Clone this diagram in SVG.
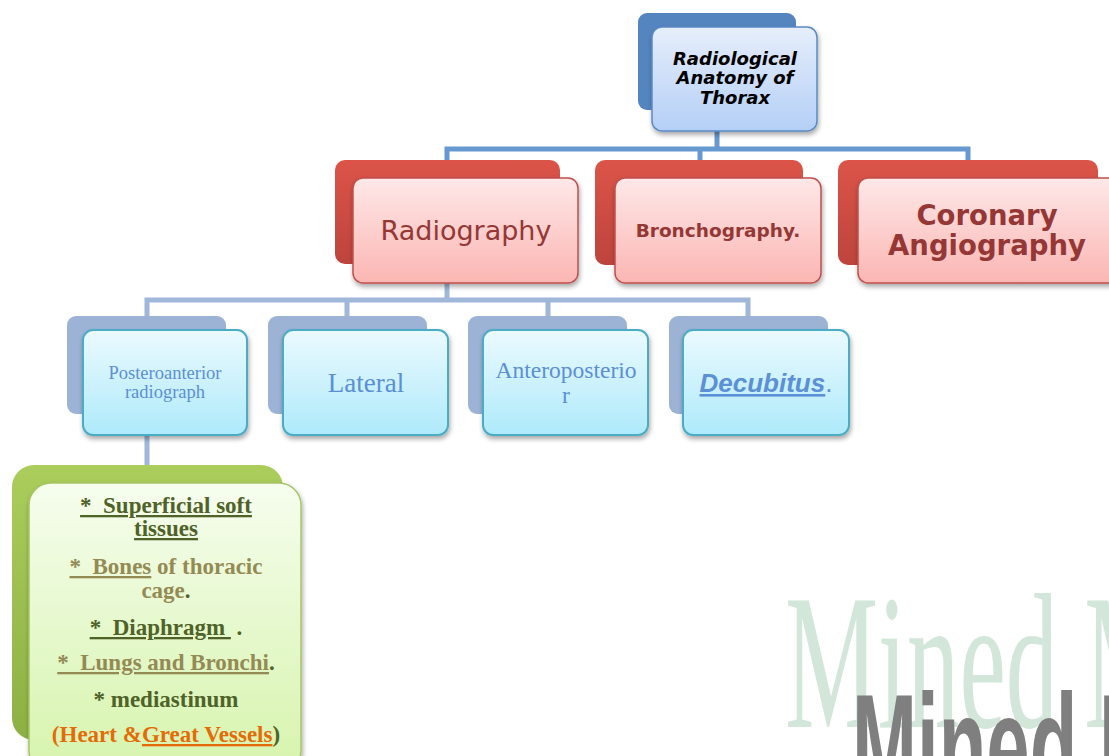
<svg xmlns="http://www.w3.org/2000/svg" width="1109" height="756" viewBox="0 0 1109 756">
<defs>
<linearGradient id="gTop" x1="0" y1="0" x2="0" y2="1"><stop offset="0" stop-color="#e6eefb"/><stop offset="1" stop-color="#b4cff6"/></linearGradient>
<linearGradient id="gRedBack" x1="0" y1="0" x2="0" y2="1"><stop offset="0" stop-color="#dc5448"/><stop offset="1" stop-color="#bd443d"/></linearGradient>
<linearGradient id="gRed" x1="0" y1="0" x2="0" y2="1"><stop offset="0" stop-color="#fee8e8"/><stop offset="1" stop-color="#fbb6b3"/></linearGradient>
<linearGradient id="gCyan" x1="0" y1="0" x2="0" y2="1"><stop offset="0" stop-color="#ebfafe"/><stop offset="1" stop-color="#aeeafb"/></linearGradient>
<linearGradient id="gGreenBack" x1="0" y1="0" x2="0" y2="1"><stop offset="0" stop-color="#abcd5c"/><stop offset="1" stop-color="#8db045"/></linearGradient>
<linearGradient id="gGreen" x1="0" y1="0" x2="0" y2="1"><stop offset="0" stop-color="#f6fdee"/><stop offset="1" stop-color="#d6f4ac"/></linearGradient>
<filter id="sh" x="-10%" y="-10%" width="125%" height="130%"><feGaussianBlur in="SourceAlpha" stdDeviation="2.5"/><feOffset dx="1" dy="3"/><feComponentTransfer><feFuncA type="linear" slope="0.35"/></feComponentTransfer><feMerge><feMergeNode/><feMergeNode in="SourceGraphic"/></feMerge></filter>
</defs>
<style>
.l1{fill:none;stroke:#6699cf;stroke-width:5}
.l2{fill:none;stroke:#9fb7d9;stroke-width:5}
.topBack{fill:#5585bf}
.topFront{fill:url(#gTop);stroke:#5a8ac6;stroke-width:1.5}
.redBack{fill:url(#gRedBack)}
.redFront{fill:url(#gRed);stroke:#c0504d;stroke-width:1.5}
.blBack{fill:#9db3d6}
.blFront{fill:url(#gCyan);stroke:#4bacc6;stroke-width:2}
.grBack{fill:url(#gGreenBack)}
.grFront{fill:url(#gGreen);stroke:#a6c564;stroke-width:1.5}
.ver{font-family:"DejaVu Sans",Verdana,sans-serif}
.tm{font-family:"Liberation Serif","Times New Roman",serif}
.red{fill:#953735}
.blue{fill:#5b8fd6}
.g{font-family:"Liberation Serif","Times New Roman",serif;font-weight:bold;font-size:23px;text-anchor:middle}
.dk{fill:#4f6228}
.tan{fill:#948a54}
.or{fill:#e36c09}
</style>

<g id="watermark">
<text transform="translate(785,727) scale(0.545,1)" font-family="Liberation Serif, serif" font-size="192" fill="#d3e6da">Mined M</text>
<text transform="translate(852,799) scale(0.52,1)" font-family="Liberation Sans, sans-serif" font-weight="bold" font-size="150" fill="#7f7f7f">Mined M</text>
</g>

<g id="connectors">
<path class="l1" d="M717,131 V149 M447,160 V149 H968 V160 M700,149 V160"/>
<path class="l2" d="M447,283 V300 M147,316 V300 H748 V316 M347,300 V316 M548,300 V316"/>
<path class="l2" d="M147,435 V466"/>
</g>

<g id="n-root">
<rect class="topBack" x="638" y="13" width="158" height="97" rx="9"/>
<rect class="topFront" x="652" y="27" width="165" height="104" rx="10" filter="url(#sh)"/>
<text class="ver" x="735" y="65" font-size="18" font-weight="bold" font-style="italic" text-anchor="middle" fill="#000">Radiological</text>
<text class="ver" x="735" y="84" font-size="18" font-weight="bold" font-style="italic" text-anchor="middle" fill="#000">Anatomy of</text>
<text class="ver" x="735" y="104" font-size="18" font-weight="bold" font-style="italic" text-anchor="middle" fill="#000">Thorax</text>
</g>

<g id="n-radiography">
<rect class="redBack" x="335" y="160" width="225" height="104" rx="10"/>
<rect class="redFront" x="353" y="178" width="225" height="105" rx="10" filter="url(#sh)"/>
<text class="ver red" x="466" y="240" font-size="27" text-anchor="middle">Radiography</text>
</g>

<g id="n-bronchography">
<rect class="redBack" x="595" y="160" width="208" height="105" rx="10"/>
<rect class="redFront" x="615" y="178" width="206" height="105" rx="10" filter="url(#sh)"/>
<text class="ver red" x="718" y="237" font-size="18.5" font-weight="bold" text-anchor="middle">Bronchography.</text>
</g>

<g id="n-coronary">
<rect class="redBack" x="838" y="160" width="260" height="105" rx="10"/>
<rect class="redFront" x="858" y="178" width="262" height="105" rx="10" filter="url(#sh)"/>
<text class="ver red" x="987" y="225" font-size="27.5" font-weight="bold" text-anchor="middle">Coronary</text>
<text class="ver red" x="987" y="255" font-size="27.5" font-weight="bold" text-anchor="middle">Angiography</text>
</g>

<g id="n-pa">
<rect class="blBack" x="67" y="316" width="159" height="98" rx="9"/>
<rect class="blFront" x="83" y="330" width="164" height="105" rx="10" filter="url(#sh)"/>
<text class="tm blue" x="165" y="379" font-size="18.5" text-anchor="middle">Posteroanterior</text>
<text class="tm blue" x="165" y="398" font-size="18.5" text-anchor="middle">radiograph</text>
</g>

<g id="n-lateral">
<rect class="blBack" x="268" y="316" width="159" height="98" rx="9"/>
<rect class="blFront" x="283" y="330" width="165" height="105" rx="10" filter="url(#sh)"/>
<text class="tm blue" x="366" y="392" font-size="27" text-anchor="middle">Lateral</text>
</g>

<g id="n-ap">
<rect class="blBack" x="468" y="316" width="159" height="98" rx="9"/>
<rect class="blFront" x="483" y="330" width="165" height="105" rx="10" filter="url(#sh)"/>
<text class="tm blue" x="566" y="378" font-size="23.5" text-anchor="middle">Anteroposterio</text>
<text class="tm blue" x="566" y="403" font-size="23.5" text-anchor="middle">r</text>
</g>

<g id="n-decubitus">
<rect class="blBack" x="669" y="316" width="159" height="98" rx="9"/>
<rect class="blFront" x="683" y="330" width="166" height="105" rx="10" filter="url(#sh)"/>
<text x="766" y="392" font-family="Liberation Sans, Arial, sans-serif" font-size="26" text-anchor="middle" class="blue"><tspan font-weight="bold" font-style="italic" text-decoration="underline">Decubitus</tspan><tspan>.</tspan></text>
</g>

<g id="n-details">
<rect class="grBack" x="12" y="465" width="271" height="275" rx="22"/>
<rect class="grFront" x="29" y="483" width="272" height="290" rx="22" filter="url(#sh)"/>
<text class="g dk" x="166" y="513" text-decoration="underline" xml:space="preserve"><tspan>*  Superficial soft</tspan></text>
<text class="g dk" x="166" y="536" text-decoration="underline">tissues</text>
<text class="g tan" x="166" y="574" xml:space="preserve"><tspan text-decoration="underline">*  Bones</tspan> of thoracic</text>
<text class="g tan" x="166" y="598">cage<tspan class="dk">.</tspan></text>
<text class="g dk" x="166" y="635" xml:space="preserve"><tspan text-decoration="underline">*  Diaphragm </tspan> .</text>
<text class="g tan" x="166" y="670" xml:space="preserve"><tspan text-decoration="underline">*  Lungs and Bronchi</tspan><tspan class="dk">.</tspan></text>
<text class="g dk" x="166" y="707">* mediastinum</text>
<text class="g or" x="166" y="742">(Heart &amp;<tspan text-decoration="underline">Great Vessels</tspan><tspan class="dk">)</tspan></text>
</g>
</svg>
